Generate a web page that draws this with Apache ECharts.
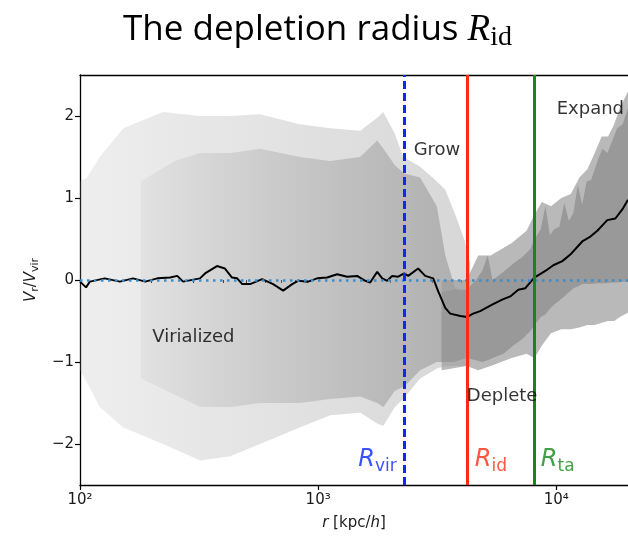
<!DOCTYPE html>
<html><head><meta charset="utf-8">
<script src="https://cdn.jsdelivr.net/npm/echarts@6/dist/echarts.min.js"></script>
<style>html,body{margin:0;padding:0;background:#fff}#c{width:628px;height:537px}</style>
</head><body><div id="c"></div>
<script>
// ---- data ----
// running median of Vr/Vvir against r [kpc/h]
const medianR = [100,106,110,127,147,167,188,211,239,256,271,319,335,376,406,435,457,480,518,582,647,713,778,824,908,990,1091,1202,1324,1458,1576,1654,1770,1858,1950,2046,2168,2296,2388,2630,2815,3042,3193,3417,3586,3952,4227,4477,4790,5378,5925,6408,6924,7412,8085,8993,9714,10600,11450,12850,13900,14870,16370,17700,18930,20000];
const medianV = [-0.02,-0.09,-0.02,0.02,-0.02,0.02,-0.02,0.02,0.03,0.05,-0.02,0.02,0.08,0.17,0.14,0.03,0.02,-0.05,-0.05,0.01,-0.05,-0.13,-0.05,-0.01,-0.02,0.02,0.03,0.07,0.04,0.05,-0.01,-0.03,0.10,0.02,-0.01,0.05,0.04,0.08,0.05,0.14,0.05,0.02,-0.14,-0.34,-0.41,-0.44,-0.45,-0.41,-0.38,-0.30,-0.24,-0.20,-0.12,-0.10,0.03,0.11,0.18,0.23,0.31,0.47,0.53,0.60,0.73,0.75,0.86,0.98];

// envelopes of the particle cloud (sparse halo)
const haloR  = [100,107,121,152,223,320,427,570,837,1124,1503,1770,1876,2100,2275,2680,3155,3418,3764,4100,4349];
const haloHi = [1.2,1.25,1.5,1.85,2.05,2.0,2.0,2.02,1.9,1.85,1.82,1.98,2.05,1.78,1.5,1.38,1.2,1.1,0.8,0.5,0.2];
const haloLo = [-1.1,-1.25,-1.55,-1.8,-2.0,-2.2,-2.15,-2.0,-1.8,-1.65,-1.62,-1.75,-1.78,-1.55,-1.45,-1.2,-1.08,-1.05,-1.05,-1.05,-1.05];
// denser core of the inner cloud
const coreR  = [180,250,320,430,570,840,1120,1500,1770,1880,2100,2300,2680,3150,3420,3760,4200];
const coreHi = [1.2,1.45,1.55,1.55,1.6,1.5,1.45,1.5,1.7,1.6,1.4,1.3,1.25,0.9,0.3,-0.1,-0.15];
const coreLo = [-1.2,-1.4,-1.55,-1.55,-1.5,-1.5,-1.45,-1.42,-1.5,-1.55,-1.35,-1.3,-1.1,-1.0,-1.0,-0.98,-0.95];
// streaky fringe of the outer band
const fringeR  = [3300,4200,4700,5300,6500,7500,8100,8700,9500,10500,11500,12500,13500,14500,15500,16500,17500,18500,20000];
const fringeHi = [0.0,0.0,0.3,0.3,0.45,0.6,0.8,0.95,0.9,1.0,1.05,1.25,1.35,1.55,1.75,1.75,1.9,2.1,2.3];
const fringeLo = [-1.1,-1.05,-1.1,-1.05,-0.95,-0.9,-0.95,-0.8,-0.65,-0.6,-0.6,-0.58,-0.55,-0.55,-0.52,-0.5,-0.5,-0.45,-0.4];
// solid outer band
const denseR  = [3300,3700,4200,4600,4900,5150,5400,6000,6600,7200,7800,8100,8600,9000,9400,9800,10300,10800,11300,11800,12300,12850,13400,14000,14900,15600,16400,17200,18000,19000,20000];
const denseHi = [-0.15,-0.12,-0.12,0.0,0.12,0.3,0.0,0.1,0.2,0.28,0.38,0.5,0.62,0.9,0.55,0.62,0.65,0.94,0.72,0.82,1.16,0.92,1.2,1.22,1.45,1.6,1.55,1.7,1.85,1.9,2.1];
const denseLo = [-1.0,-1.0,-0.95,-0.98,-1.0,-0.98,-0.95,-0.9,-0.8,-0.72,-0.62,-0.55,-0.45,-0.42,-0.35,-0.3,-0.25,-0.2,-0.15,-0.1,-0.08,-0.05,-0.05,-0.05,-0.04,-0.04,-0.04,-0.03,-0.03,-0.02,-0.02];

// characteristic radii: R_vir, R_id, R_ta
const radii = [2296, 4210, 8085];
const xTicks = [100, 1000, 10000];
const xMinorTicks = [200,300,400,500,600,700,800,900,2000,3000,4000,5000,6000,7000,8000,9000];
const yTicks = [-2, -1, 0, 1, 2];

// ---- chart ----
const chart = echarts.init(document.getElementById('c'), null, {renderer: 'canvas'});
const DV = 'DejaVu Sans';
const sup = {'2':'²','3':'³','4':'⁴'};

function band(r, lo, hi, fill) {
  return {
    type:'custom', silent:true, z:1, animation:false, clip:true,
    data: r.map((x,i)=>[x, lo[i], hi[i]]),
    encode: {x:0, y:[1,2]},
    renderItem: (params, api) => {
      if (params.dataIndexInside !== 0) return null;
      const n = params.dataInsideLength;
      const top = [], bot = [];
      for (let j = 0; j < n; j++) {
        const x = api.value(0, j);
        top.push(api.coord([x, api.value(2, j)]));
        bot.push(api.coord([x, api.value(1, j)]));
      }
      return {type:'polygon', shape:{points: top.concat(bot.reverse())}, style:{fill: fill}};
    }
  };
}
const grad = (c0, c1) => new echarts.graphic.LinearGradient(0,0,1,0,[{offset:0,color:c0},{offset:1,color:c1}]);

const rLabel = (main, sub, color) => ({
  formatter: '{R|' + main + '}{s|' + sub + '}',
  rich: {
    R: {fontFamily: DV, fontStyle:'italic', fontSize:24, lineHeight:30, color: color},
    s: {fontFamily: DV, fontSize:17, lineHeight:17, verticalAlign:'bottom', color: color}
  }
});

const option = {
  animation: false,
  backgroundColor: '#fff',
  title: {
    text: '{a|The depletion radius }{r|R}{s|id}',
    left: 118, top: 3,
    textStyle: {
      fontWeight: 'normal',
      rich: {
        a: {fontFamily:'Open Sans', fontWeight:'normal', fontSize:35, color:'#000', lineHeight:44},
        r: {fontFamily:'Liberation Serif', fontWeight:'normal', fontStyle:'italic', fontSize:37, color:'#000', lineHeight:44},
        s: {fontFamily:'Liberation Serif', fontWeight:'normal', fontSize:28, color:'#000', lineHeight:27, verticalAlign:'bottom'}
      }
    }
  },
  grid: {left:80, right:0, top:75, bottom:52, containLabel:false},
  xAxis: [
    {type:'log', logBase:10, min:100, max:20000, position:'bottom',
     axisLine:{show:true, onZero:false, lineStyle:{color:'#000', width:1.3}},
     axisTick:{show:true, length:5, inside:false, customValues:xTicks, lineStyle:{color:'#000', width:1.2}},
     axisLabel:{customValues:xTicks, margin:8, fontFamily:DV, fontSize:15, color:'#1a1a1a',
       formatter: v => '10' + sup[String(Math.round(Math.log10(v)))]},
     splitLine:{show:false}, minorTick:{show:false},
     name:'{i|r}{n| [kpc/}{i|h}{n|]}', nameLocation:'middle', nameGap:31,
     nameTextStyle:{rich:{i:{fontFamily:DV, fontStyle:'italic', fontSize:15, color:'#1a1a1a'},
                          n:{fontFamily:DV, fontSize:15, color:'#1a1a1a'}}}},
    {type:'log', logBase:10, min:100, max:20000, position:'bottom', gridIndex:0,
     axisLine:{show:false}, axisLabel:{show:false}, splitLine:{show:false},
     axisTick:{show:true, length:3, customValues:xMinorTicks, lineStyle:{color:'#000', width:1}}},
    {type:'log', logBase:10, min:100, max:20000, position:'top', gridIndex:0,
     axisLine:{show:true, onZero:false, lineStyle:{color:'#000', width:1.3}},
     axisTick:{show:false}, axisLabel:{show:false}, splitLine:{show:false}}
  ],
  yAxis: {
    type:'value', min:-2.5, max:2.5,
    axisLine:{show:true, onZero:false, lineStyle:{color:'#000', width:1.3}},
    axisTick:{show:true, length:5, customValues:yTicks, lineStyle:{color:'#000', width:1.2}},
    axisLabel:{customValues:yTicks, margin:6, fontFamily:DV, fontSize:15, color:'#1a1a1a',
      formatter: v => String(v).replace('-', '\u2212')},
    splitLine:{show:false},
    name:'{i|V}{s|r}{n|/}{i|V}{s|vir}', nameLocation:'middle', nameGap:36, nameRotate:90,
    nameTextStyle:{rich:{i:{fontFamily:DV, fontStyle:'italic', fontSize:15, color:'#1a1a1a', lineHeight:20},
                         n:{fontFamily:DV, fontSize:15, color:'#1a1a1a', lineHeight:20},
                         s:{fontFamily:DV, fontSize:11, color:'#1a1a1a', lineHeight:11, verticalAlign:'bottom'}}}
  },
  series: [
    band(haloR, haloLo, haloHi, grad('rgba(160,160,160,0.18)','rgba(160,160,160,0.42)')),
    band(coreR, coreLo, coreHi, grad('rgba(150,150,150,0.1)','rgba(150,150,150,0.62)')),
    band(fringeR, fringeLo, fringeHi, 'rgba(155,155,155,0.7)'),
    band(denseR, denseLo, denseHi, '#999999'),
    {type:'line', data:[], z:3, silent:true,
     markLine:{symbol:'none', silent:true, animation:false, label:{show:false},
       data:[{yAxis:0, lineStyle:{color:'#3a8ed0', width:2.5, type:[2.5,4.5]}}]}},
    {type:'line', name:'median', data:medianR.map((x,i)=>[x, medianV[i]]), symbol:'none',
     lineStyle:{color:'#000', width:2}, z:4, silent:true},
    {type:'line', data:[], z:5, silent:true,
     markLine:{symbol:'none', silent:true, animation:false, label:{show:false},
       data:[
         {xAxis:radii[0], lineStyle:{color:'#0a28ff', width:3, type:[8,4]}},
         {xAxis:radii[1], lineStyle:{color:'#ff2a12', width:3, type:'solid'}},
         {xAxis:radii[2], lineStyle:{color:'#11881a', width:3, type:'solid'}}
       ]}},
    {type:'scatter', z:10, silent:true, symbolSize:1, itemStyle:{color:'transparent'},
     label:{show:true, position:[0,0], align:'left', verticalAlign:'middle', fontFamily:DV, fontSize:18, color:'#000'},
     data:[
       {value:[202,-0.71], label:{formatter:'Virialized'}},
       {value:[2530,1.58], label:{formatter:'Grow'}},
       {value:[10090,2.08], label:{formatter:'Expand'}},
       {value:[4230,-1.42], label:{formatter:'Deplete'}},
       {value:[2148,-2.2], label:Object.assign({align:'right'}, rLabel('R','vir','#0a28ff'))},
       {value:[4571,-2.2], label:rLabel('R','id','#ff2a12')},
       {value:[8650,-2.2], label:rLabel('R','ta','#11881a')}
     ]}
  ]
};
chart.setOption(option);
</script></body></html>
